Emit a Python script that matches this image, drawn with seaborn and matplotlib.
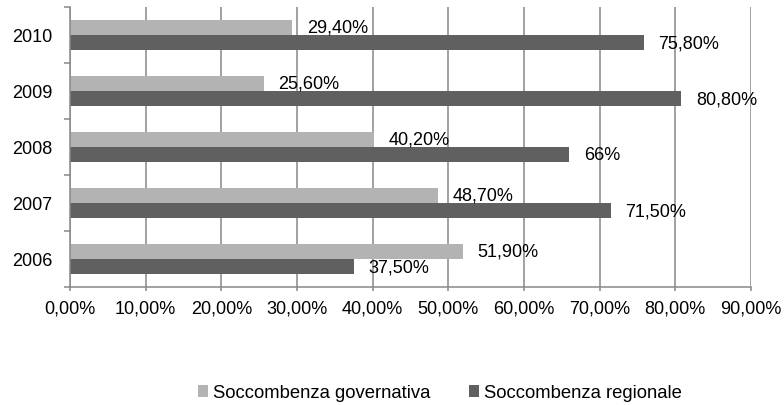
import matplotlib
matplotlib.use("Agg")
import matplotlib.pyplot as plt
from matplotlib.ticker import FixedLocator, FuncFormatter
import pandas as pd
import seaborn as sns

# Data
years = ["2006", "2007", "2008", "2009", "2010"]
soccombenza_governativa = [51.9, 48.7, 40.2, 25.6, 29.4]
soccombenza_regionale = [37.5, 71.5, 66.0, 80.8, 75.8]
series_names = ["Soccombenza governativa", "Soccombenza regionale"]
x_ticks = [0, 10, 20, 30, 40, 50, 60, 70, 80, 90]

df = pd.DataFrame({
    "anno": years * 2,
    "valore": soccombenza_governativa + soccombenza_regionale,
    "serie": [series_names[0]] * len(years) + [series_names[1]] * len(years),
})

plt.rcParams["font.family"] = ["Liberation Sans", "DejaVu Sans"]
FS = 13
LIGHT = "#b3b3b3"
DARK = "#606060"
GRID = "#888888"

fig = plt.figure(figsize=(7.84, 4.06), dpi=100)
W, H = 784, 406
ax = fig.add_axes([70 / W, 1 - 288 / H, (751 - 70) / W, (288 - 8) / H])

sns.barplot(
    data=df, y="anno", x="valore", hue="serie",
    order=years[::-1], hue_order=series_names,
    palette=[LIGHT, DARK], orient="h", width=0.55, gap=0,
    errorbar=None, saturation=1, ax=ax,
)


def pct_label(v):
    if abs(v - round(v)) < 1e-9:
        return f"{v:.0f}%"
    return f"{v:.2f}%".replace(".", ",")


for cont in ax.containers:
    ax.bar_label(cont, fmt=pct_label, padding=10.5, fontsize=FS, color="#000000")

# Axes styling
ax.set_xlim(0, 90)
ax.xaxis.set_major_locator(FixedLocator(x_ticks))
ax.xaxis.set_major_formatter(FuncFormatter(lambda v, p: f"{v:.2f}%".replace(".", ",")))
ax.set_xlabel("")
ax.set_ylabel("")
ax.xaxis.grid(True, color=GRID, linewidth=1.1)
ax.yaxis.grid(False)
ax.set_axisbelow(True)

for side in ("top", "right"):
    ax.spines[side].set_visible(False)
for side in ("left", "bottom"):
    ax.spines[side].set_color(GRID)
    ax.spines[side].set_linewidth(1.1)

ax.tick_params(axis="x", which="major", length=3, width=1.1, color=GRID,
               pad=6, labelsize=FS)
ax.tick_params(axis="y", which="major", length=0, pad=12.5, labelsize=FS)
ax.yaxis.set_minor_locator(FixedLocator([-0.5, 0.5, 1.5, 2.5, 3.5, 4.5]))
ax.tick_params(axis="y", which="minor", length=4.5, width=1.1, color=GRID)

# Legend below the plot
handles, labels = ax.get_legend_handles_labels()
if ax.legend_ is not None:
    ax.legend_.remove()
fig.legend(handles, labels, loc="center", bbox_to_anchor=(440 / W, 1 - 394 / H),
           ncol=2, frameon=False, fontsize=13.3, handlelength=0.55,
           handleheight=0.55, handletextpad=0.25, columnspacing=2.1)

fig.savefig("out.png", dpi=100)
